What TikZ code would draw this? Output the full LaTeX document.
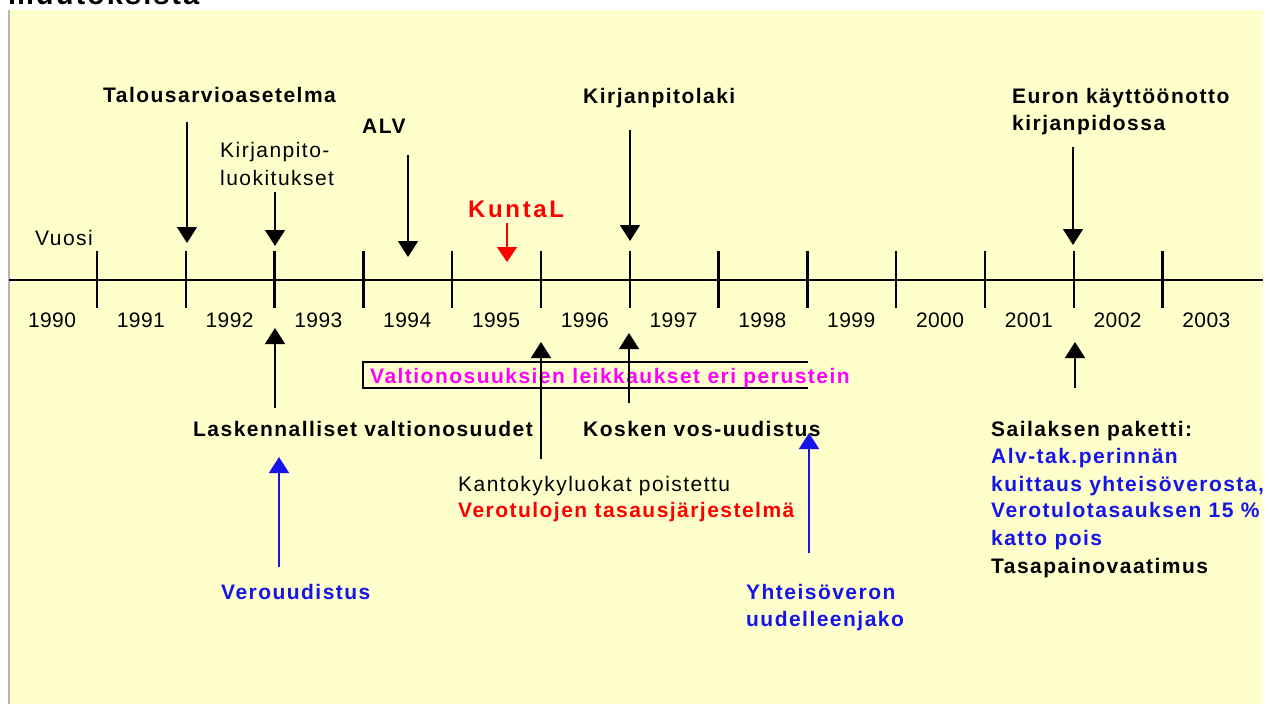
\documentclass[tikz,border=0pt]{standalone}
\usepackage{fontspec}
\setmainfont{Liberation Sans}[LetterSpace=7]
\newfontfamily\yearfont{Liberation Sans}[LetterSpace=2]
\usetikzlibrary{arrows.meta}
\definecolor{bgyellow}{HTML}{FFFFCC}
\definecolor{bordergrey}{HTML}{B4B4B4}
\definecolor{magtext}{HTML}{FF00FF}
\definecolor{redtext}{HTML}{FF0000}
\definecolor{bluetext}{RGB}{20,20,235}
\begin{document}
\begin{tikzpicture}[x=1pt,y=-1pt,
  lbl/.style={inner sep=0pt, anchor=base west, font=\fontsize{21}{27}\selectfont},
  blbl/.style={inner sep=0pt, anchor=base west, font=\fontsize{21}{27}\selectfont\bfseries},
  yearlbl/.style={inner sep=0pt, anchor=base, font=\fontsize{21}{27}\selectfont\yearfont},
  arr/.style={line width=1.5pt, -{Triangle[width=20pt,length=16pt]}},
  tickmark/.style={line width=2.5pt},
]
\useasboundingbox (0,0) rectangle (1275,704);
% background panel
\fill[white] (0,0) rectangle (1275,704);
\fill[bgyellow] (9,10) rectangle (1263,704);
\draw[bordergrey, line width=2pt] (9,10) -- (9,704);
% cut-off title
\node[inner sep=0pt, anchor=base west, font=\fontsize{29}{30}\selectfont\bfseries] (title) at (8,5) {muutoksista};

% timeline
\coordinate (tlstart) at (9,280);
\coordinate (tlend) at (1263,280);
\draw[line width=2.5pt] (tlstart) -- (tlend);
\foreach \i in {0,...,12} {
  \draw[tickmark] ({97+88.8*\i},251) -- ({97+88.8*\i},308);
}
\foreach \yr [count=\i from 0] in {1990,1991,1992,1993,1994,1995,1996,1997,1998,1999,2000,2001,2002,2003} {
  \node[yearlbl] (y\yr) at ({52+88.8*\i},327) {\yr};
}
\node[lbl] (vuosi) at (35,245) {Vuosi};

% upper labels
\node[blbl] (talous) at (103,102) {Talousarvioasetelma};
\node[lbl] (kirjA) at (220,157) {Kirjanpito-};
\node[lbl] (kirjB) at (220,185) {luokitukset};
\node[blbl] (alv) at (362,133) {ALV};
\node[inner sep=0pt, anchor=base west, font=\fontsize{24}{28}\selectfont\bfseries\addfontfeature{LetterSpace=11}, text=redtext] (kuntal) at (468,217) {KuntaL};
\node[blbl] (kirjlaki) at (583,103) {Kirjanpitolaki};
\node[blbl] (euroA) at (1012,103) {Euron käyttöönotto};
\node[blbl] (euroB) at (1012,130) {kirjanpidossa};

% down arrows
\coordinate (dA1) at (187,122); \coordinate (dA2) at (187,243);
\coordinate (dB1) at (275,192); \coordinate (dB2) at (275,246);
\coordinate (dC1) at (408,155); \coordinate (dC2) at (408,257);
\coordinate (dD1) at (507,223); \coordinate (dD2) at (507,262);
\coordinate (dE1) at (630,130); \coordinate (dE2) at (630,241);
\coordinate (dF1) at (1073,147); \coordinate (dF2) at (1073,245);
\draw[arr] (dA1) -- (dA2);
\draw[arr] (dB1) -- (dB2);
\draw[arr] (dC1) -- (dC2);
\draw[line width=1.5pt, redtext, -{Triangle[width=20pt,length=15pt]}] (dD1) -- (dD2);
\draw[arr] (dE1) -- (dE2);
\draw[arr] (dF1) -- (dF2);

% box (open at right)
\coordinate (bxA) at (808,362);
\coordinate (bxB) at (363,362);
\coordinate (bxC) at (363,388);
\coordinate (bxD) at (808,388);
\draw[line width=2pt] (bxA) -- (bxB) -- (bxC) -- (bxD);
\node[blbl, text=magtext] (valt) at (370,383) {Valtionosuuksien leikkaukset eri perustein};

% up arrows
\coordinate (uA1) at (275,408); \coordinate (uA2) at (275,328);
\coordinate (uB1) at (541,459); \coordinate (uB2) at (541,342);
\coordinate (uC1) at (629,403); \coordinate (uC2) at (629,333);
\coordinate (uD1) at (1075,388); \coordinate (uD2) at (1075,342);
\draw[arr] (uA1) -- (uA2);
\draw[arr] (uB1) -- (uB2);
\draw[arr] (uC1) -- (uC2);
\draw[arr] (uD1) -- (uD2);

% lower labels
\node[blbl] (lask) at (193,436) {Laskennalliset valtionosuudet};
\node[blbl] (kosk) at (583,436) {Kosken vos-uudistus};
\node[lbl] (kanto) at (458,491) {Kantokykyluokat poistettu};
\node[blbl, text=redtext] (verotas) at (458,517) {Verotulojen tasausjärjestelmä};
\node[blbl, text=bluetext] (verouud) at (221,599) {Verouudistus};
\node[blbl, text=bluetext] (yhtA) at (746,599) {Yhteisöveron};
\node[blbl, text=bluetext] (yhtB) at (746,626) {uudelleenjako};
\node[blbl] (sailA) at (991,436) {Sailaksen paketti:};
\node[blbl, text=bluetext] (sailB) at (991,463) {Alv-tak.perinnän};
\node[blbl, text=bluetext] (sailC) at (991,491) {kuittaus yhteisöverosta,};
\node[blbl, text=bluetext] (sailD) at (991,517) {Verotulotasauksen 15 \%};
\node[blbl, text=bluetext] (sailE) at (991,545) {katto pois};
\node[blbl] (sailF) at (991,573) {Tasapainovaatimus};

% blue up arrows
\coordinate (bA1) at (279,567); \coordinate (bA2) at (279,457);
\coordinate (bB1) at (809,553); \coordinate (bB2) at (809,433);
\draw[line width=1.5pt, bluetext, -{Triangle[width=20pt,length=16pt]}] (bA1) -- (bA2);
\draw[line width=1.5pt, bluetext, -{Triangle[width=20pt,length=16pt]}] (bB1) -- (bB2);
\end{tikzpicture}
\end{document}
